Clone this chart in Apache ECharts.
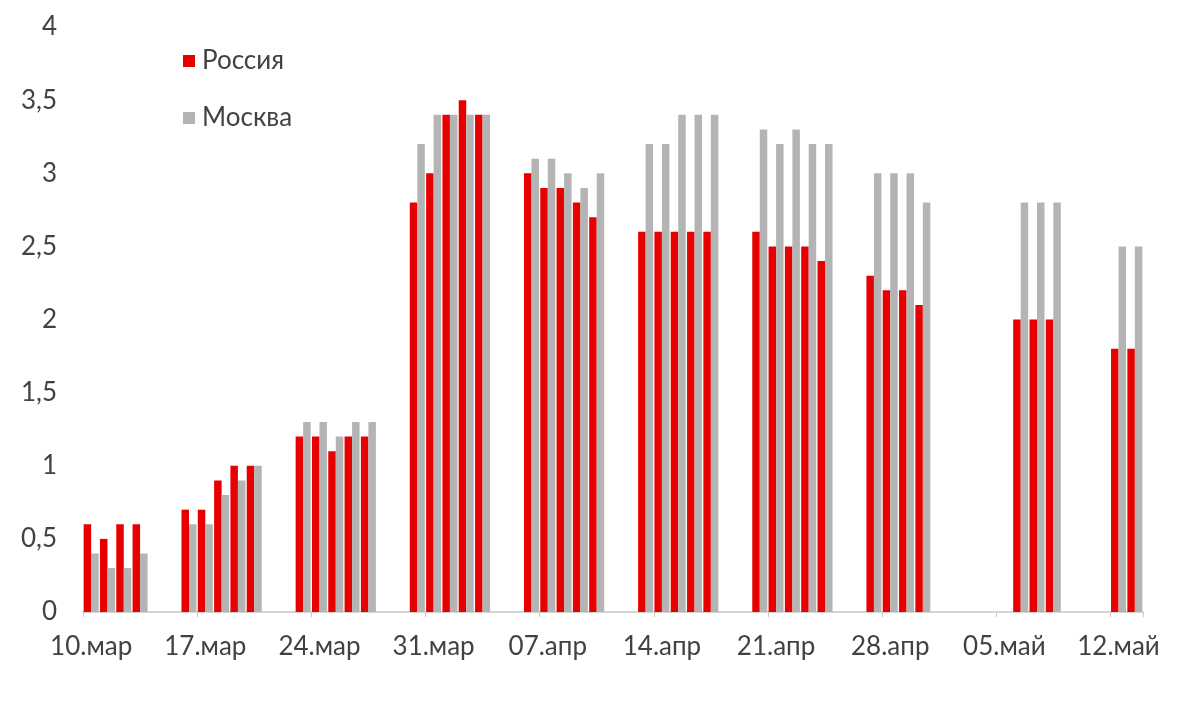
<!DOCTYPE html>
<html>
<head>
<meta charset="utf-8">
<script src="https://cdn.jsdelivr.net/npm/echarts@6/dist/echarts.min.js"></script>
<style>
html,body{margin:0;padding:0;background:#fff;}
#chart{width:1200px;height:716px;}
</style>
</head>
<body>
<div id="chart"></div>
<script>
// Calendar days 10.03 – 13.05 (non-trading days are null)
const categories = [
  '10.мар','11.мар','12.мар','13.мар','14.мар','15.мар','16.мар',
  '17.мар','18.мар','19.мар','20.мар','21.мар','22.мар','23.мар',
  '24.мар','25.мар','26.мар','27.мар','28.мар','29.мар','30.мар',
  '31.мар','01.апр','02.апр','03.апр','04.апр','05.апр','06.апр',
  '07.апр','08.апр','09.апр','10.апр','11.апр','12.апр','13.апр',
  '14.апр','15.апр','16.апр','17.апр','18.апр','19.апр','20.апр',
  '21.апр','22.апр','23.апр','24.апр','25.апр','26.апр','27.апр',
  '28.апр','29.апр','30.апр','01.май','02.май','03.май','04.май',
  '05.май','06.май','07.май','08.май','09.май','10.май','11.май',
  '12.май','13.май'
];
const russia = [
  0.6,0.5,0.6,0.6,null,null,0.7,
  0.7,0.9,1.0,1.0,null,null,1.2,
  1.2,1.1,1.2,1.2,null,null,2.8,
  3.0,3.4,3.5,3.4,null,null,3.0,
  2.9,2.9,2.8,2.7,null,null,2.6,
  2.6,2.6,2.6,2.6,null,null,2.6,
  2.5,2.5,2.5,2.4,null,null,2.3,
  2.2,2.2,2.1,null,null,null,null,
  null,2.0,2.0,2.0,null,null,null,
  1.8,1.8
];
const moscow = [
  0.4,0.3,0.3,0.4,null,null,0.6,
  0.6,0.8,0.9,1.0,null,null,1.3,
  1.3,1.2,1.3,1.3,null,null,3.2,
  3.4,3.4,3.4,3.4,null,null,3.1,
  3.1,3.0,2.9,3.0,null,null,3.2,
  3.2,3.4,3.4,3.4,null,null,3.3,
  3.2,3.3,3.2,3.2,null,null,3.0,
  3.0,3.0,2.8,null,null,null,null,
  null,2.8,2.8,2.8,null,null,null,
  2.5,2.5
];
const seriesNames = ['Россия','Москва'];

const textColor = '#424242';
const fontFamily = 'Lato, "Open Sans", sans-serif';
const fontSize = 26;
const chart = echarts.init(document.getElementById('chart'));
chart.setOption({
  animation: false,
  backgroundColor: '#ffffff',
  grid: { left: 83, right: 57, top: 27, bottom: 104 },
  legend: {
    orient: 'vertical',
    left: 178,
    top: 43,
    itemWidth: 12,
    itemHeight: 12,
    itemGap: 31,
    icon: 'rect',
    textStyle: { color: textColor, fontSize: fontSize, fontFamily: fontFamily, padding: [0,0,0,2] },
    data: seriesNames
  },
  xAxis: {
    type: 'category',
    data: categories,
    boundaryGap: true,
    axisLine: { lineStyle: { color: '#c8c8c8', width: 1.5 } },
    axisTick: { show: true, interval: 6, length: 5, lineStyle: { color: '#c8c8c8' } },
    axisLabel: { interval: 6, color: textColor, fontSize: fontSize, fontFamily: fontFamily, margin: 22 },
    splitLine: { show: false }
  },
  yAxis: {
    type: 'value',
    min: 0, max: 4, interval: 0.5,
    axisLine: { show: false },
    axisTick: { show: false },
    splitLine: { show: false },
    axisLabel: {
      color: textColor, fontSize: fontSize, fontFamily: fontFamily, margin: 26,
      formatter: v => String(v).replace('.', ',')
    }
  },
  series: [
    {
      name: seriesNames[0], type: 'bar', data: russia,
      itemStyle: { color: '#e60000' },
      barGap: '0%', barCategoryGap: '8%'
    },
    {
      name: seriesNames[1], type: 'bar', data: moscow,
      itemStyle: { color: '#b4b4b4' },
      barGap: '0%', barCategoryGap: '8%'
    }
  ]
});
</script>
</body>
</html>
